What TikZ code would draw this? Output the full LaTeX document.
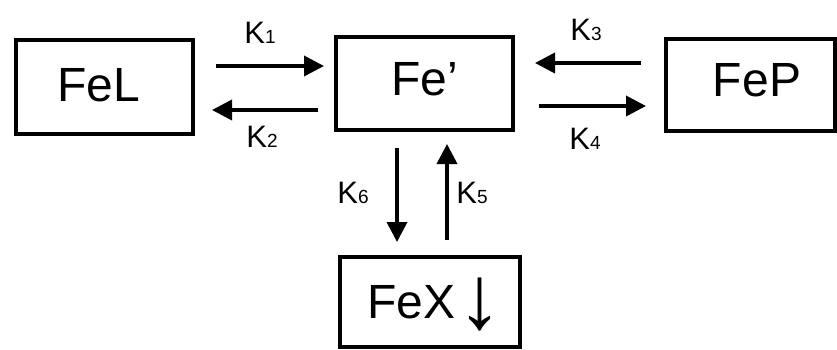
\documentclass[tikz,border=0pt]{standalone}
\usepackage{fontspec}
\setmainfont{Liberation Sans}
\usetikzlibrary{arrows.meta}
\newcommand{\ksub}[1]{K{\fontsize{19}{19}\selectfont #1}}
\begin{document}
\begin{tikzpicture}[x=1pt,y=-1pt,
  box/.style={draw, line width=4pt, inner sep=0pt},
  lbl/.style={anchor=base, inner sep=0pt, font=\fontsize{48}{52}\selectfont},
  klbl/.style={anchor=base, inner sep=0pt, font=\fontsize{31}{33}\selectfont},
  rx/.style={line width=3.6pt, -{Triangle[length=20pt,width=20pt]}}]
\useasboundingbox (0,0) rectangle (837,350);
% boxes
\node[box, minimum width=177pt, minimum height=94pt] (FeL) at (104.5,87) {};
\node[box, minimum width=177pt, minimum height=93pt] (Fe) at (424.5,83.5) {};
\node[box, minimum width=169pt, minimum height=92pt] (FeP) at (750.5,85) {};
\node[box, minimum width=180pt, minimum height=90pt] (FeX) at (430,302) {};
% texts
\node[lbl] (tFeL) at (99,102) {FeL};
\node[lbl] (tFe) at (425,96) {Fe’};
\node[lbl] (tFeP) at (757,97) {FeP};
\node[lbl, anchor=base west] (tFeX) at (367,318) {FeX};
\node[lbl, font=\fontsize{90}{90}\selectfont] (tArr) at (480,328) {↓};
% arrow ends
\coordinate (a1s) at (216,66);  \coordinate (a1e) at (324,66);
\coordinate (a2s) at (318,110); \coordinate (a2e) at (212,110);
\coordinate (a3s) at (641,63);  \coordinate (a3e) at (535,63);
\coordinate (a4s) at (539,106); \coordinate (a4e) at (646,106);
\coordinate (a6s) at (397,148); \coordinate (a6e) at (397,242);
\coordinate (a5s) at (447,240); \coordinate (a5e) at (447,144);
\draw[rx] (a1s) -- (a1e);
\draw[rx] (a2s) -- (a2e);
\draw[rx] (a3s) -- (a3e);
\draw[rx] (a4s) -- (a4e);
\draw[rx] (a6s) -- (a6e);
\draw[rx] (a5s) -- (a5e);
% rate labels
\node[klbl] (k1) at (260,44) {\ksub{1}};
\node[klbl] (k2) at (262,147) {\ksub{2}};
\node[klbl] (k3) at (586,41) {\ksub{3}};
\node[klbl] (k4) at (585,149) {\ksub{4}};
\node[klbl] (k6) at (353,203) {\ksub{6}};
\node[klbl] (k5) at (472,203) {\ksub{5}};
\end{tikzpicture}
\end{document}
